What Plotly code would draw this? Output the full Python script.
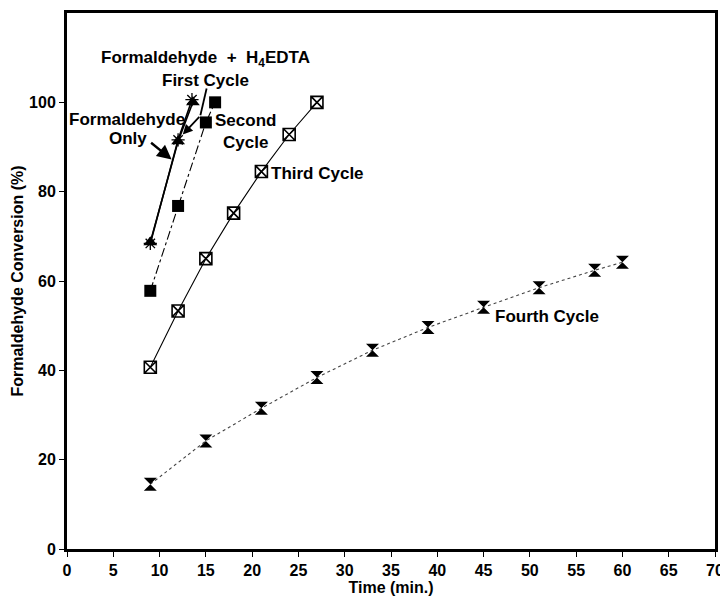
import plotly.graph_objects as go

# ---- data ----
first_t = [9, 12, 13.6]
first_v = [68.7, 91.3, 100.0]

only_t = [9, 12, 13.5]
only_v = [68.4, 91.6, 100.6]

second_t = [9, 12, 15, 16]
second_v = [57.8, 76.8, 95.5, 100.0]

third_t = [9, 12, 15, 18, 21, 24, 27]
third_v = [40.7, 53.3, 65.0, 75.2, 84.5, 92.8, 100.0]

fourth_t = [9, 15, 21, 27, 33, 39, 45, 51, 57, 60]
fourth_v = [14.5, 24.2, 31.5, 38.4, 44.5, 49.6, 54.1, 58.5, 62.4, 64.2]

x_ticks = list(range(0, 71, 5))
y_ticks = list(range(0, 101, 20))

FONT = "Liberation Sans, Arial, Helvetica, sans-serif"

fig = go.Figure()

fig.add_trace(go.Scatter(
    x=first_t, y=first_v, mode="lines+markers", name="First Cycle",
    line=dict(color="black", width=1.6),
    marker=dict(symbol="triangle-up", size=12, color="black")))

fig.add_trace(go.Scatter(
    x=only_t, y=only_v, mode="lines+markers", name="Formaldehyde Only",
    line=dict(color="black", width=1.6),
    marker=dict(symbol="asterisk-open", size=11, color="black", line=dict(width=1.3, color="black"))))

fig.add_trace(go.Scatter(
    x=second_t, y=second_v, mode="lines+markers", name="Second Cycle",
    line=dict(color="black", width=1.1, dash="dashdot"),
    marker=dict(symbol="square", size=12, color="black")))

fig.add_trace(go.Scatter(
    x=third_t, y=third_v, mode="lines+markers", name="Third Cycle",
    line=dict(color="black", width=1.1),
    marker=dict(symbol="square-x-open", size=12, color="black", line=dict(width=1.6, color="black"))))

fig.add_trace(go.Scatter(
    x=fourth_t, y=fourth_v, mode="lines+markers", name="Fourth Cycle",
    line=dict(color="#444444", width=1.1, dash="dot"),
    marker=dict(symbol="hourglass", size=13, color="black")))

afont = dict(family=FONT, size=17, color="black", weight="bold")

labels = [
    ("Formaldehyde\u00a0 +\u00a0 H<sub>4</sub>EDTA", 14.95, 109.6),
    ("First Cycle", 14.95, 104.9),
    ("Formaldehyde", 6.5, 96.2),
    ("Only", 6.6, 91.8),
    ("Second<br>Cycle", 19.3, 93.5),
    ("Third Cycle", 27.1, 84.1),
    ("Fourth Cycle", 51.9, 52.1),
]
for txt, x, y in labels:
    fig.add_annotation(x=x, y=y, text=txt, showarrow=False, font=afont,
                       xanchor="center", yanchor="middle")

# arrows
fig.add_annotation(x=11.3, y=87.2, ax=-22, ay=-18, text="", showarrow=True,
                   arrowhead=2, arrowsize=1.2, arrowwidth=2.4, arrowcolor="black")
fig.add_shape(type="line", x0=15.08, y0=103.1, x1=14.41, y1=97.1,
              line=dict(color="black", width=1.8))
fig.add_annotation(x=12.5, y=92.8, ax=18, ay=-19, text="", showarrow=True,
                   arrowhead=2, arrowsize=1.1, arrowwidth=1.8, arrowcolor="black")

tickfont = dict(family=FONT, size=16, color="black", weight="bold")
titlefont = dict(family=FONT, size=16, color="black", weight="bold")

# the page adds an 8px body margin, so the figure is drawn 8px smaller
fig.update_layout(
    width=720, height=591,
    margin=dict(l=59, r=13, t=5, b=50),
    paper_bgcolor="white", plot_bgcolor="white",
    showlegend=False,
    xaxis=dict(range=[0, 70], tickvals=x_ticks, ticks="outside", ticklen=5, tickwidth=1,
               tickcolor="black", showline=True, linewidth=3, linecolor="black", mirror=True,
               showgrid=False, zeroline=False, tickfont=tickfont, automargin=False,
               title=dict(text="Time (min.)", font=titlefont, standoff=2)),
    yaxis=dict(range=[0, 120], tickvals=y_ticks, ticks="outside", ticklen=5, tickwidth=1,
               tickcolor="black", showline=True, linewidth=3, linecolor="black", mirror=True,
               showgrid=False, zeroline=False, tickfont=tickfont, automargin=False,
               title=dict(text="Formaldehyde Conversion (%)", font=titlefont, standoff=2)),
)

fig.write_html("out.html")
